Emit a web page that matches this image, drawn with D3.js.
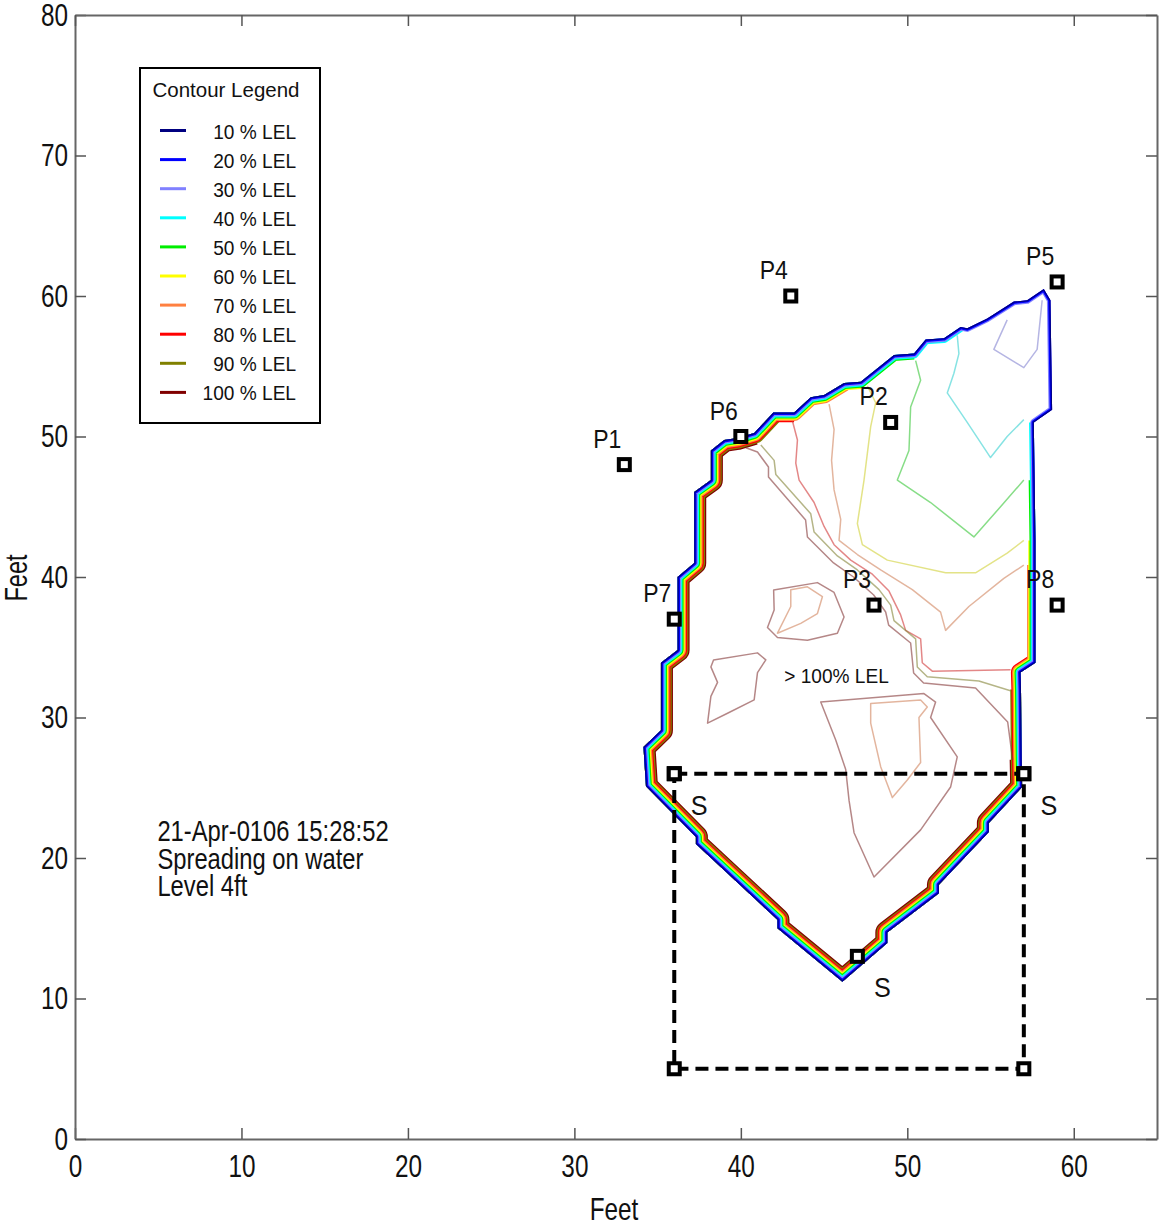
<!DOCTYPE html>
<html><head><meta charset="utf-8">
<script src="https://cdn.jsdelivr.net/npm/d3@7"></script>
<style>
html,body{margin:0;padding:0;background:#fff;}
svg{display:block;font-family:"Liberation Sans",Arial,sans-serif;}
</style></head><body>
<svg id="chart" width="1159" height="1228"></svg>
<script>
// ---------------- data ----------------
const levels = [10,20,30,40,50,60,70,80,90,100];
const levelColors = ["#000080","#0000ff","#8080ff","#00ffff","#00ee00","#ffff00","#ff8040","#ff0000","#808000","#800000"];
const xTicks = [0,10,20,30,40,50,60];
const yTicks = [0,10,20,30,40,50,60,70,80];

// outer (10 % LEL) plume boundary, feet
const boundary = [
 [58.2,60.5],[57.2,59.7],[56.4,59.6],[54.8,58.4],[53.6,57.7],[53.2,57.8],[52.2,57.0],[51.1,56.9],
 [50.4,55.9],[49.2,55.8],[47.2,53.9],[46.2,53.8],[45.0,52.95],[44.2,52.8],[43.2,51.7],[41.95,51.7],
 [40.8,50.25],[39.8,49.9],[39.0,49.75],[38.2,49.0],[38.2,46.9],[37.2,46.05],[37.2,41.0],[36.2,40.0],
 [36.2,34.8],[35.2,33.9],[35.2,29.1],[34.15,27.9],[34.3,25.1],[37.3,21.5],[37.3,21.0],[42.2,15.6],
 [42.2,15.0],[46.1,11.2],[48.8,13.95],[48.8,14.7],[51.9,17.5],[51.9,18.1],[54.9,21.85],[54.9,22.5],
 [56.9,25.05],[56.87,27.0],[56.83,32.0],[56.8,33.2],[57.7,33.9],[57.7,40.85],[57.7,42.6],[57.65,46.9],
 [57.6,51.0],[58.7,51.9],[58.6,59.7]
];
// part of the boundary each level follows (vertex index range), null = whole ring
const levelSpans = [null,null,null,[5,48],[8,47],[10,46],[11,45],[14,44],[15,42],[16,41]];

// interior contour lines, feet
const contour40 = [[53.0,57.2],[53.1,55.9],[52.8,54.5],[52.4,53.1],[53.6,51.0],[55.0,48.5],[56.0,50.0],[57.0,51.2]];
const contour50 = [[50.5,55.4],[50.8,54.0],[50.2,52.1],[50.1,49.0],[49.4,46.9],[51.4,45.3],[54.0,42.85],[55.6,45.0],[57.0,46.9]];
const contour60 = [[47.6,53.6],[48.1,52.4],[47.8,50.7],[47.4,46.9],[47.0,43.8],[47.3,42.3],[48.8,41.2],[52.3,40.3],[54.1,40.3],[56.0,41.7],[57.0,42.6]];
const contour70 = [[45.3,52.3],[45.6,50.5],[45.45,48.3],[45.6,46.2],[46.0,44.1],[45.9,42.6],[47.0,41.6],[48.4,40.5],[50.3,39.1],[52.0,37.5],[52.3,36.2],[53.7,37.9],[55.8,39.9],[57.0,40.85]];
const contour80 = [[43.1,51.1],[43.4,49.75],[43.3,48.1],[43.5,46.9],[44.4,45.3],[45.0,43.6],[45.6,42.3],[46.6,41.2],[47.9,40.2],[48.9,39.0],[49.6,37.3],[49.9,36.2],[50.8,35.6],[50.9,33.9],[51.5,33.3],[56.2,33.4]];
const contour90 = [[41.2,49.4],[42.0,48.3],[42.1,47.3],[44.2,44.5],[44.4,43.2],[45.8,41.5],[47.0,40.5],[48.3,39.1],[49.0,38.0],[49.2,36.9],[50.5,35.6],[50.6,33.6],[51.2,32.9],[54.3,32.6],[56.2,31.9]];
const contour100 = [[40.3,49.2],[41.0,48.9],[41.66,47.83],[41.66,47.12],[43.89,44.06],[44.0,42.85],[45.57,41.0],[46.77,40.0],[47.98,38.72],[48.7,37.51],[48.88,36.58],[50.2,35.3],[50.38,33.17],[50.98,32.46],[54.1,32.1],[56.03,29.68],[56.33,26.98]];
const lobe30 = [[56.0,58.3],[55.2,56.2],[57.0,54.9],[57.8,56.2],[58.1,59.7]];
const island1Outer = [[41.97,39.07],[44.6,39.6],[45.6,38.9],[46.2,37.15],[45.8,36.0],[44.0,35.5],[42.2,35.7],[41.6,36.4],[42.0,37.65]];
const island1Inner = [[43.0,39.1],[44.0,39.3],[44.9,38.6],[44.6,37.4],[43.6,36.7],[42.2,36.0],[43.0,37.9]];
const island2 = [[38.36,34.1],[41.0,34.6],[41.5,34.1],[41.0,33.2],[40.8,31.25],[39.2,30.3],[38.0,29.6],[38.2,31.5],[38.6,32.5],[38.2,33.6]];
const island3Outer = [[44.8,31.1],[51.0,31.7],[51.7,31.1],[51.4,30.0],[53.0,27.2],[52.6,25.05],[50.8,22.0],[48.0,18.65],[46.8,21.8],[46.5,24.1],[46.3,26.3],[45.7,28.4]];
const island3Inner = [[47.8,31.0],[50.8,31.25],[51.2,30.75],[50.7,30.0],[50.8,26.8],[50.0,25.55],[49.1,24.3],[48.4,26.5],[47.8,29.6]];
const contourLines = [
  {level:30, pts:lobe30, closed:false},
  {level:40, pts:contour40, closed:false},
  {level:50, pts:contour50, closed:false},
  {level:60, pts:contour60, closed:false},
  {level:70, pts:contour70, closed:false},
  {level:80, pts:contour80, closed:false},
  {level:90, pts:contour90, closed:false},
  {level:100, pts:contour100, closed:false},
  {level:100, pts:island1Outer, closed:true},
  {level:70, pts:island1Inner, closed:true},
  {level:100, pts:island2, closed:true},
  {level:100, pts:island3Outer, closed:true},
  {level:70, pts:island3Inner, closed:true}
];

// sampling points
const probeNames = ["P1","P2","P3","P4","P5","P6","P7","P8"];
const probeX = [33,49,48,43,59,40,36,59];
const probeY = [48,51,38,60,61,50,37,38];
const sourceX = [36,57,47];
const sourceY = [26,26,13];
const spillRect = [[36,26],[57,26],[57,5],[36,5]];
const annotation = ["21-Apr-0106 15:28:52","Spreading on water","Level 4ft"];

// ---------------- drawing ----------------
const svg = d3.select("#chart");
const x = d3.scaleLinear().domain([0,65]).range([75,1157]);
const y = d3.scaleLinear().domain([0,80]).range([1139,15]);
const line = d3.line().x(d=>x(d[0])).y(d=>y(d[1]));

function styleAxis(g){
  g.attr("font-family",null).attr("font-size",null);
  g.select(".domain").attr("stroke","#666").attr("stroke-width",2);
  g.selectAll(".tick line").attr("stroke","#555").attr("stroke-width",1.5);
}
const sx = 0.76;
const gB = svg.append("g").attr("transform",`translate(0,${y(0)})`)
  .call(d3.axisBottom(x).tickValues(xTicks).tickSize(-11).tickSizeOuter(0).tickPadding(15));
styleAxis(gB);
gB.selectAll("text").attr("font-size",32).attr("fill","#111").attr("transform",`scale(${sx},1)`);
const gL = svg.append("g").attr("transform",`translate(${x(0)},0)`)
  .call(d3.axisLeft(y).tickValues(yTicks).tickSize(-11).tickSizeOuter(0).tickPadding(7));
styleAxis(gL);
gL.selectAll("text").attr("font-size",32).attr("fill","#111").attr("x",-7/sx).attr("transform",`scale(${sx},1)`);
const gT = svg.append("g").attr("transform",`translate(0,${y(80)})`)
  .call(d3.axisTop(x).tickValues(xTicks).tickSize(-11).tickSizeOuter(0).tickFormat(""));
styleAxis(gT);
const gR = svg.append("g").attr("transform",`translate(${x(65)},0)`)
  .call(d3.axisRight(y).tickValues(yTicks).tickSize(-11).tickSizeOuter(0).tickFormat(""));
styleAxis(gR);

svg.append("text").attr("transform",`translate(614,1220) scale(${sx},1)`)
  .attr("text-anchor","middle").attr("font-size",32).attr("fill","#111").text("Feet");
svg.append("text").attr("transform",`translate(27,578) rotate(-90) scale(${sx},1)`)
  .attr("text-anchor","middle").attr("font-size",31).attr("fill","#111").text("Feet");

// contour band along boundary (each level drawn inside the plume outline)
svg.append("defs").append("clipPath").attr("id","plumeClip")
  .append("path").attr("d", line(boundary)+"Z");
const bandG = svg.append("g").attr("clip-path","url(#plumeClip)");
const bandStep = 1.2;
for (let k = levels.length-1; k >= 0; k--) {
  const span = levelSpans[k];
  const d = span ? line(boundary.slice(span[0], span[1]+1)) : line(boundary)+"Z";
  bandG.append("path").attr("d", d).attr("fill","none")
    .attr("stroke", levelColors[k]).attr("stroke-width", 2*(k+1)*bandStep)
    .attr("stroke-linejoin","round");
}

// interior contours (faint, washed-out colours as in the original)
const colorOf = d3.scaleOrdinal().domain(levels).range(levelColors);
svg.append("g").selectAll("path").data(contourLines).join("path")
  .attr("d", c => line(c.pts) + (c.closed ? "Z" : ""))
  .attr("fill","none").attr("stroke", c => d3.interpolateRgb(colorOf(c.level), "#8a8a8a")(0.4))
  .attr("stroke-opacity",0.6).attr("stroke-width",1.5).attr("stroke-linejoin","round");

// spill area dashed rectangle
svg.append("path").attr("d", line(spillRect)+"Z").attr("fill","none")
  .attr("stroke","#000").attr("stroke-width",4).attr("stroke-dasharray","13,7");

// markers
const markerG = svg.append("g");
function marker(px,py){
  markerG.append("rect").attr("x",x(px)-5.5).attr("y",y(py)-5.5).attr("width",11).attr("height",11)
    .attr("fill","#fff").attr("stroke","#000").attr("stroke-width",4);
}
spillRect.forEach(p => marker(p[0],p[1]));
sourceX.forEach((v,i) => marker(v, sourceY[i]));
probeX.forEach((v,i) => marker(v, probeY[i]));

// probe labels
probeNames.forEach((n,i) => {
  svg.append("text").attr("transform",`translate(${x(probeX[i])-17},${y(probeY[i])-17}) scale(0.92,1)`)
    .attr("text-anchor","middle").attr("font-size",25).attr("fill","#111").text(n);
});
sourceX.forEach((v,i) => {
  svg.append("text").attr("transform",`translate(${x(v)+25},${y(sourceY[i])+41}) scale(0.9,1)`)
    .attr("text-anchor","middle").attr("font-size",28).attr("fill","#111").text("S");
});
svg.append("text").attr("transform",`translate(${x(45.75)},${y(32.45)}) scale(0.91,1)`)
  .attr("text-anchor","middle").attr("font-size",21).attr("fill","#111").text("> 100% LEL");

// annotation
annotation.forEach((t,i) => {
  svg.append("text").attr("transform",`translate(${x(4.95)},${y(21.2)+i*27.5}) scale(0.82,1)`)
    .attr("font-size",29).attr("fill","#111").text(t);
});

// legend
const lg = svg.append("g");
lg.append("rect").attr("x",140).attr("y",68).attr("width",180).attr("height",355)
  .attr("fill","#fff").attr("stroke","#000").attr("stroke-width",2);
lg.append("text").attr("x",226).attr("y",97).attr("text-anchor","middle")
  .attr("font-size",20.5).attr("fill","#111").text("Contour Legend");
levels.forEach((lv,i) => {
  const yy = 130.5 + i*29.1;
  lg.append("line").attr("x1",160).attr("x2",186).attr("y1",yy).attr("y2",yy)
    .attr("stroke",levelColors[i]).attr("stroke-width",3);
  lg.append("text").attr("transform",`translate(296,${yy+8}) scale(0.91,1)`)
    .attr("text-anchor","end").attr("font-size",21).attr("fill","#111").text(lv + " % LEL");
});
</script>
</body></html>
